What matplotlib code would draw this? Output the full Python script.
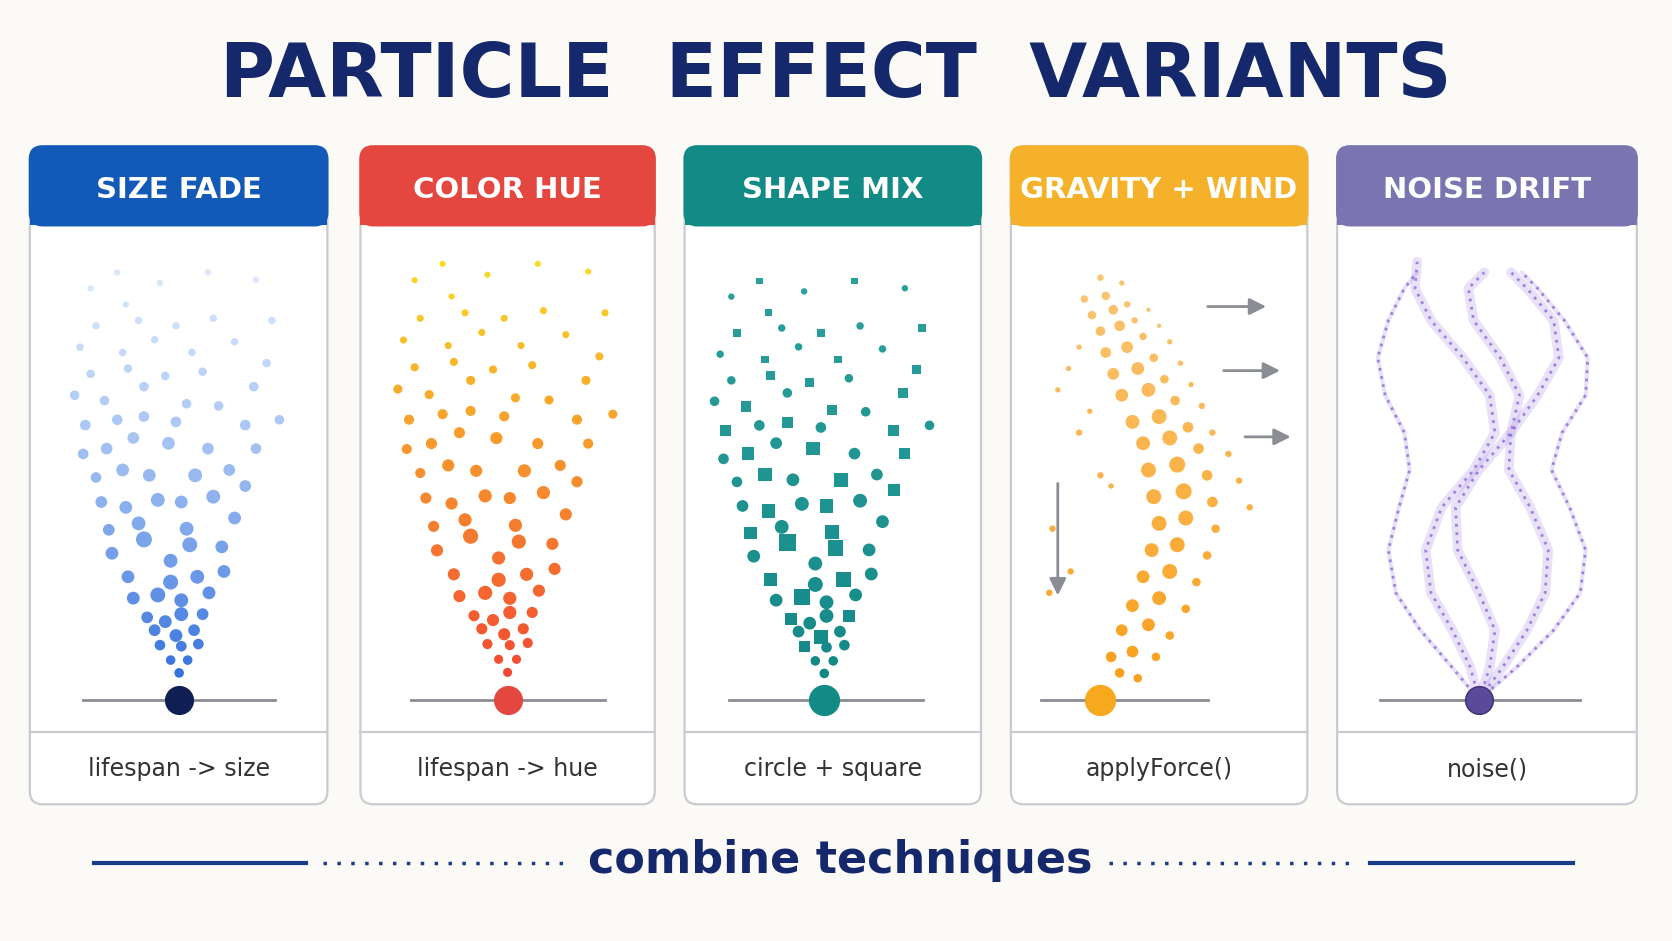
import matplotlib
matplotlib.use("Agg")
import matplotlib.pyplot as plt
from matplotlib.patches import FancyBboxPatch, Rectangle, FancyArrowPatch
import numpy as np

titles = ["SIZE FADE", "COLOR HUE", "SHAPE MIX", "GRAVITY + WIND", "NOISE DRIFT"]
captions = ["lifespan -> size", "lifespan -> hue", "circle + square", "applyForce()", "noise()"]
header_colors = ["#1259b8", "#e4473f", "#128a86", "#f6b12a", "#7a74b0"]
panel_left = [28, 338, 642, 948, 1254]
panel_right = [307, 614, 920, 1226, 1535]

cone_dx = [0, -8, 8, -18, 2, 18, -23, -3, 14, -30, -13, 2, 22, -43, -20, 2, 28, -48, -8, 17, 42,
           -63, -33, -8, 10, 40, -66, -38, 7, 52, -73, -50, -20, 2, 32, 62, -78, -53, -28, 15, 47,
           -90, -68, -43, -10, 27, 72, -88, -58, -33, -3, 62, 94, -98, -70, -33, 7, 37, 70, -83, -48,
           -13, 22, 82, -93, -53, -23, 12, 52, -78, -38, -3, 32, 87, -83, -50, -18, 27, 72, -58]
cone_h = [25, 37, 37, 51, 50, 52, 65, 60, 65, 77, 73, 80, 80, 95, 98, 93, 100, 115, 110, 115, 120,
          137, 150, 130, 145, 143, 159, 165, 160, 170, 185, 180, 187, 185, 190, 200, 208, 215, 210, 210, 215,
          230, 235, 245, 240, 235, 235, 257, 262, 265, 260, 257, 262, 285, 280, 293, 277, 275, 293, 305, 310,
          303, 307, 315, 330, 325, 337, 325, 335, 350, 355, 350, 357, 355, 385, 370, 390, 400, 393, 400]
cone_r = [4.5, 4.5, 4.5, 5, 5, 5, 5.5, 6, 5.5, 5.5, 6, 6.5, 5.5, 6, 7, 6.5, 6, 6, 7, 6.5, 6,
          6, 7.5, 6.5, 7, 6, 5.5, 6.5, 6.5, 6, 5.5, 6, 6.5, 6, 6.5, 5.5, 5, 6, 6, 6.5, 5.5,
          5, 5.5, 5.5, 6, 5.5, 5, 5, 5, 5, 5, 5, 4.5, 4.5, 4.5, 4.5, 4.5, 4.5, 4.5, 4, 4,
          4, 4, 4, 3.5, 3.5, 3.5, 3.5, 3.5, 3.5, 3.5, 3.5, 3.5, 3.5, 3, 3, 3, 3, 3, 3]
shape_is_square = [0, 0, 0, 1, 0, 0, 0, 1, 0, 1, 0, 0, 1, 0, 1, 0, 0, 1, 0, 1, 0,
                   0, 1, 0, 1, 0, 1, 0, 1, 0, 0, 1, 0, 1, 0, 1, 0, 1, 0, 1, 0,
                   0, 1, 0, 1, 0, 1, 1, 0, 1, 0, 1, 0, 0, 1, 0, 1, 0, 1, 0, 1,
                   1, 0, 1, 0, 1, 0, 1, 0, 1, 0, 1, 0, 1, 0, 1, 0, 1, 0, 1]

grav_dx = [0, 18, 35, 10, 30, 52, 20, 45, 65, 30, 55, 80, 40, 65, 90, 48, 72, 100, 55, 80, 108,
           50, 78, 105, 140, 45, 72, 100, 130, 40, 65, 92, 120, 30, 55, 82, 105, 20, 45, 70, 95,
           12, 35, 60, 85, 5, 25, 50, 75, 0, 18, 40, 65, -8, 12, 32, 55, -15, 5, 25, 45, -20, 0, 20,
           -30, -10, 10, -40, -20, 0, -45, -28, -48]
grav_h = [0, 25, 20, 40, 45, 40, 65, 70, 60, 88, 95, 85, 115, 120, 110, 140, 145, 135, 165, 170, 160,
          190, 195, 185, 180, 215, 220, 210, 205, 240, 245, 235, 230, 260, 265, 255, 250, 285, 290, 280, 275,
          305, 310, 300, 295, 325, 330, 320, 315, 345, 350, 340, 335, 360, 365, 355, 350, 375, 378, 370, 365,
          330, 395, 390, 310, 270, 200, 290, 250, 210, 160, 120, 100]
grav_r = [6, 4.5, 4, 5, 5.5, 4, 5.5, 6, 4, 6, 6.5, 4, 6, 7, 4, 6.5, 7, 4, 7, 7, 4,
          7, 7.5, 5, 3, 7, 7.5, 5, 3, 6.5, 7, 5, 3, 6.5, 7, 5, 3, 6, 6.5, 4.5, 3, 5.5, 6, 4, 2.5,
          5, 5.5, 4, 2.5, 4.5, 5, 3.5, 2.5, 4, 4.5, 3, 2, 3.5, 4, 3, 2, 2.5, 3, 2.5,
          2.5, 2.5, 2.5, 2.5, 3, 3, 3, 3, 3]

strand_dx = [
    [0, -8, -25, -45, -50, -35, -5, 15, 10, -15, -45, -60, -58],
    [0, 10, 15, 0, -20, -22, 0, 30, 38, 20, -5, -10, 5],
    [0, 22, 45, 62, 65, 48, 28, 30, 55, 75, 70, 45, 30],
    [0, 35, 70, 95, 100, 85, 68, 78, 100, 102, 80, 55, 40],
    [0, -25, -55, -78, -85, -75, -65, -70, -88, -95, -85, -70, -58],
]
strand_h = [
    [0, 30, 65, 100, 140, 180, 215, 250, 285, 320, 355, 385, 410],
    [0, 30, 65, 100, 140, 180, 215, 250, 285, 320, 355, 385, 400],
    [0, 30, 65, 100, 140, 180, 215, 250, 285, 320, 355, 385, 400],
    [0, 30, 65, 100, 140, 180, 215, 250, 285, 320, 355, 385, 400],
    [0, 30, 65, 100, 140, 180, 215, 250, 285, 320, 355, 385, 400],
]

W, H = 1568, 881
fig = plt.figure(figsize=(16.72, 9.41), dpi=100)
fig.patch.set_facecolor("#fbfaf6")
ax = fig.add_axes([0, 0, 1, 1])
ax.set_xlim(0, W); ax.set_ylim(H, 0); ax.axis("off")
PX2PT = 1672 / 1568 * 0.72
def s_of(r):
    return (2 * np.asarray(r) * PX2PT) ** 2

navy = "#14286b"
ax.text(W / 2, 72, "PARTICLE  EFFECT  VARIANTS", ha="center", va="center", fontsize=54,
        fontweight="heavy", color=navy, family="DejaVu Sans")

top, hb, div, bot = 137, 211, 685, 753
emit_y = 655
for i in range(5):
    l, r = panel_left[i], panel_right[i]
    ax.add_patch(FancyBboxPatch((l, top), r - l, bot - top, boxstyle="round,pad=0,rounding_size=12",
                                fc="white", ec="#c9cbd0", lw=1.6, zorder=1))
    ax.add_patch(FancyBboxPatch((l, top), r - l, hb - top, boxstyle="round,pad=0,rounding_size=12",
                                fc=header_colors[i], ec=header_colors[i], lw=1.6, zorder=2))
    ax.add_patch(Rectangle((l, top + 20), r - l, hb - top - 20, fc=header_colors[i], ec="none", zorder=2))
    ax.plot([l, r], [div, div], color="#c9cbd0", lw=1.6, zorder=3)
    ax.text((l + r) / 2, 178, titles[i], ha="center", va="center", color="white", fontsize=21,
            fontweight="bold", zorder=4)
    ax.text((l + r) / 2, 720, captions[i], ha="center", va="center", color="#333333", fontsize=17, zorder=4)

dx = np.array(cone_dx, float); hh = np.array(cone_h, float); rr = np.array(cone_r, float)
t = hh / hh.max()

# Panel 1: size fade
cx = 168
ax.plot([78, 258], [emit_y, emit_y], color="#8a8d93", lw=2, zorder=3)
cols = [(0.15 + 0.45 * v, 0.4 + 0.35 * v, 0.85 + 0.12 * v, 1.0 - 0.65 * v) for v in t]
ax.scatter(cx + dx, emit_y - hh, s=s_of(rr), c=cols, edgecolors="none", zorder=4)
ax.scatter([cx], [emit_y], s=s_of(13), color="#0f1f54", zorder=5)

# Panel 2: color hue
cx = 476
ax.plot([385, 567], [emit_y, emit_y], color="#8a8d93", lw=2, zorder=3)
cols = [(0.95 + 0.03 * v, 0.25 + 0.6 * v, 0.2 - 0.05 * v) for v in t]
ax.scatter(cx + dx * 1.05, emit_y - hh * 1.02, s=s_of(rr * 0.95), c=cols, edgecolors="none", zorder=4)
ax.scatter([cx], [emit_y], s=s_of(13), color="#e4473f", zorder=5)

# Panel 3: shape mix
cx = 773
ax.plot([684, 866], [emit_y, emit_y], color="#8a8d93", lw=2, zorder=3)
sq = np.array(shape_is_square, bool)
tealc = np.array([(0.07 + 0.1 * v, 0.53 + 0.1 * v, 0.52 + 0.1 * v) for v in t])
ax.scatter(cx + dx[~sq] * 1.05, emit_y - hh[~sq] * 0.98, s=s_of(rr[~sq]), c=tealc[~sq], marker="o",
           edgecolors="none", zorder=4)
ax.scatter(cx + dx[sq] * 1.05, emit_y - hh[sq] * 0.98, s=s_of(rr[sq]) * 1.1, c=tealc[sq], marker="s",
           edgecolors="none", zorder=4)
ax.scatter([cx], [emit_y], s=s_of(14), color="#128a86", zorder=5)

# Panel 4: gravity + wind
cx = 1032
ax.plot([976, 1133], [emit_y, emit_y], color="#8a8d93", lw=2, zorder=3)
gdx = np.array(grav_dx, float); gh = np.array(grav_h, float)
gt = gh / gh.max()
gcols = [(0.98, 0.62 + 0.15 * v, 0.1 + 0.35 * v) for v in gt]
ax.scatter(cx + gdx, emit_y - gh, s=s_of(grav_r), c=gcols, edgecolors="none", zorder=4)
ax.scatter([cx], [emit_y], s=s_of(14), color="#f6a91c", zorder=5)
for ys, x0, x1 in [(287, 1130, 1190), (347, 1145, 1203), (409, 1165, 1213)]:
    ax.add_patch(FancyArrowPatch((x0, ys), (x1, ys), arrowstyle="-|>,head_length=10,head_width=5",
                                 color="#8a8d93", lw=2, zorder=4))
ax.add_patch(FancyArrowPatch((992, 450), (992, 560), arrowstyle="-|>,head_length=10,head_width=5",
                             color="#8a8d93", lw=2, zorder=4))

# Panel 5: noise drift
cx = 1387
ax.plot([1294, 1482], [emit_y, emit_y], color="#8a8d93", lw=2, zorder=3)
for k in range(len(strand_dx)):
    xs = cx + np.array(strand_dx[k]); ys = emit_y - np.array(strand_h[k])
    ax.plot(xs, ys, color="#a98ae6", lw=7 if k < 3 else 3, alpha=0.25, zorder=4,
            solid_joinstyle="round", solid_capstyle="round")
    ax.plot(xs, ys, color="#7f5bd0", lw=2, ls=(0, (1, 2)), alpha=0.7, zorder=4)
ax.scatter([cx], [emit_y], s=s_of(13), color="#5a4a9a", ec="#3d3070", zorder=5)

# bottom
ax.plot([88, 287], [808, 808], color="#1a3a8a", lw=3)
ax.plot([1285, 1475], [808, 808], color="#1a3a8a", lw=3)
ax.plot([303, 530], [808, 808], color="#1a3a8a", lw=2.5, ls=(0, (1, 3)))
ax.plot([1040, 1268], [808, 808], color="#1a3a8a", lw=2.5, ls=(0, (1, 3)))
ax.text(W / 2 + 4, 806, "combine techniques", ha="center", va="center", fontsize=32,
        fontweight="bold", color=navy)

fig.savefig("out.png", dpi=100, facecolor=fig.get_facecolor())
